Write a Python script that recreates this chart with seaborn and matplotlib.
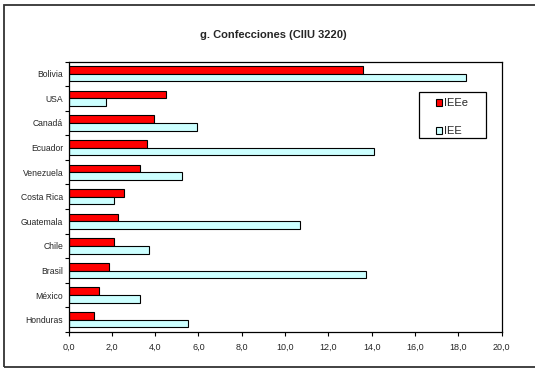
import matplotlib
matplotlib.use("Agg")
import matplotlib.pyplot as plt
from matplotlib.patches import Rectangle
from matplotlib.ticker import FuncFormatter, FixedLocator
import seaborn as sns
import pandas as pd

# Índices por país, confecciones (CIIU 3220)
paises = ["Bolivia", "USA", "Canadá", "Ecuador", "Venezuela", "Costa Rica",
          "Guatemala", "Chile", "Brasil", "México", "Honduras"]
ieee = [13.6, 4.5, 3.95, 3.63, 3.28, 2.56, 2.27, 2.12, 1.88, 1.39, 1.17]
iee = [18.34, 1.72, 5.95, 14.11, 5.26, 2.10, 10.67, 3.71, 13.76, 3.28, 5.51]
series = ["IEEe", "IEE"]
colores = {"IEEe": "#FF0000", "IEE": "#CCFFFF"}
x_ticks = [0, 2, 4, 6, 8, 10, 12, 14, 16, 18, 20]

df = pd.DataFrame({
    "país": paises * 2,
    "valor": ieee + iee,
    "serie": ["IEEe"] * len(paises) + ["IEE"] * len(paises),
})

sns.set_style("white")
plt.rcParams["font.family"] = ["Liberation Sans", "DejaVu Sans"]

W, H = 535, 369
fig = plt.figure(figsize=(W / 100, H / 100), dpi=100)
ax = fig.add_axes([68.5 / W, 1 - 332 / H, 433 / W, 270.5 / H])

sns.barplot(data=df, x="valor", y="país", hue="serie", hue_order=series,
            order=paises, palette=colores, saturation=1, orient="h", width=0.62,
            edgecolor="black", linewidth=0.8, ax=ax, legend=False)

ax.set_xlim(0, 20)
ax.set_ylim(len(paises) - 0.5, -0.5)
ax.set_xlabel("")
ax.set_ylabel("")

ax.xaxis.set_major_locator(FixedLocator(x_ticks))
ax.xaxis.set_major_formatter(FuncFormatter(lambda v, p: f"{v:.1f}".replace(".", ",")))
ax.tick_params(axis="x", direction="out", length=3, width=0.8, color="black",
               labelsize=6.5, pad=5, bottom=True)
ax.tick_params(axis="y", which="major", length=0, labelsize=6.2, pad=3.8)
ax.yaxis.set_minor_locator(FixedLocator([i - 0.5 for i in range(len(paises) + 1)]))
ax.tick_params(axis="y", which="minor", direction="out", length=3, width=0.8,
               color="black", left=True)

for s in ax.spines.values():
    s.set_visible(True)
    s.set_color("black")
    s.set_linewidth(0.9)

# Legend: framed box with square markers
fig.patches.append(Rectangle((418.5 / W, 1 - 137.5 / H), 67 / W, 45.5 / H,
                             transform=fig.transFigure, fill=False,
                             edgecolor="black", linewidth=0.9, zorder=5))
handles = [Rectangle((0, 0), 1, 1, facecolor=colores[s], edgecolor="black", linewidth=0.8)
           for s in series]
leg = ax.legend(handles, series, loc="upper left",
                bbox_to_anchor=(435.5 / W, 1 - 98.5 / H),
                bbox_transform=fig.transFigure, frameon=False,
                fontsize=8, handlelength=0.55, handleheight=0.55,
                handletextpad=0.2, labelspacing=1.6, borderpad=0,
                borderaxespad=0)

fig.text(273 / W, 1 - 35 / H, "g. Confecciones (CIIU 3220)", ha="center", va="center",
         fontsize=8, fontweight="bold")

fig.patches.append(Rectangle((4 / W, 2 / H), 1.0, 1 - 7 / H,
                             transform=fig.transFigure, fill=False,
                             edgecolor="#333333", linewidth=1.3))

fig.savefig("out.png", dpi=100)
